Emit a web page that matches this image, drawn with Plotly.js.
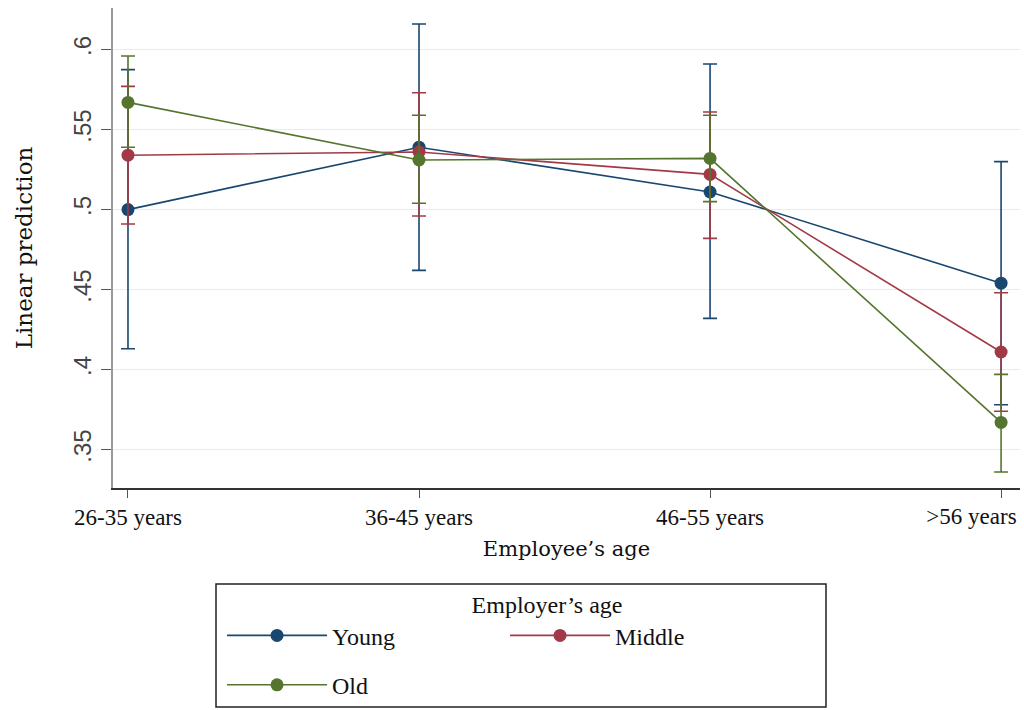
<!DOCTYPE html>
<html>
<head>
<meta charset="utf-8">
<script src="https://cdn.plot.ly/plotly-3.0.1.min.js"></script>
<style>html,body{margin:0;padding:0;background:#fff;}#chart{width:1024px;height:710px;}</style>
</head>
<body>
<div id="chart"></div>
<script>
const categories = ["26-35 years", "36-45 years", "46-55 years", ">56 years"];
const seriesNames = ["Young", "Middle", "Old"];
const seriesColors = ["#1a476f", "#a23a45", "#55752f"];

const youngMean  = [0.500, 0.539, 0.511, 0.454];
const youngUpper = [0.5875, 0.616, 0.591, 0.530];
const youngLower = [0.413, 0.462, 0.432, 0.378];

const middleMean  = [0.534, 0.536, 0.522, 0.411];
const middleUpper = [0.577, 0.573, 0.561, 0.448];
const middleLower = [0.491, 0.496, 0.482, 0.374];

const oldMean  = [0.567, 0.531, 0.532, 0.367];
const oldUpper = [0.596, 0.559, 0.559, 0.397];
const oldLower = [0.539, 0.504, 0.505, 0.336];

const yTickVals = [0.35, 0.4, 0.45, 0.5, 0.55, 0.6];
const yTickText = [".35", ".4", ".45", ".5", ".55", ".6"];

const means = [youngMean, middleMean, oldMean];
const uppers = [youngUpper, middleUpper, oldUpper];
const lowers = [youngLower, middleLower, oldLower];
const xIdx = categories.map((c, i) => i);
const lastIdx = categories.length - 1;
// the last label is drawn right-aligned (flush with the frame edge) on a helper axis
const xTickTextMain = categories.map((c, i) => i === lastIdx ? "" : c);
const legendIds = ["legend", "legend", "legend2"];

const traces = seriesNames.map((name, s) => ({
  type: "scatter",
  mode: "lines+markers",
  name: name,
  legend: legendIds[s],
  x: xIdx,
  y: means[s],
  line: {color: seriesColors[s], width: 1.6},
  marker: {color: seriesColors[s], size: 13},
  error_y: {
    type: "data",
    symmetric: false,
    array: uppers[s].map((u, i) => u - means[s][i]),
    arrayminus: means[s].map((m, i) => m - lowers[s][i]),
    color: seriesColors[s],
    thickness: 1.6,
    width: 7
  }
}));
// empty helper trace so the helper x axis (last category label) is drawn
traces.push({
  type: "scatter", mode: "markers", xaxis: "x2", yaxis: "y",
  x: [lastIdx], y: [null], showlegend: false, hoverinfo: "skip",
  marker: {opacity: 0}
});

const times = "Liberation Serif, Times New Roman, serif";
const slab = "DejaVu Serif, serif";
const legendFont = {family: times, size: 24, color: "#111"};
const xRange = [-0.0515, 3.065];
const labelShift = 16 / 291; // label end sits 16px right of the last tick

const layout = {
  width: 1024, height: 710,
  margin: {l: 113, r: 4, t: 8, b: 222, autoexpand: false},
  paper_bgcolor: "#fff",
  plot_bgcolor: "#fff",
  showlegend: true,
  xaxis: {
    range: xRange,
    tickmode: "array",
    tickvals: xIdx,
    ticktext: xTickTextMain,
    ticks: "outside",
    ticklen: 8,
    tickcolor: "#555",
    tickwidth: 1,
    showgrid: false,
    zeroline: false,
    showline: true,
    linecolor: "#333",
    linewidth: 1.5,
    automargin: false,
    tickfont: {family: times, size: 23, color: "#111"},
    title: {text: "Employee’s age", font: {family: slab, size: 21, color: "#111"}, standoff: 12},
    fixedrange: true
  },
  xaxis2: {
    overlaying: "x",
    anchor: "y",
    side: "bottom",
    range: [xRange[0] - labelShift, xRange[1] - labelShift],
    tickmode: "array",
    tickvals: [lastIdx],
    ticktext: [categories[lastIdx]],
    ticklabelposition: "outside left",
    ticklabelstandoff: 7,
    ticks: "outside",
    ticklen: 8,
    tickcolor: "rgba(0,0,0,0)",
    showgrid: false,
    zeroline: false,
    showline: false,
    automargin: false,
    tickfont: {family: times, size: 23, color: "#111"},
    fixedrange: true
  },
  yaxis: {
    range: [0.326, 0.626],
    tickmode: "array",
    tickvals: yTickVals,
    ticktext: yTickText,
    tickangle: -90,
    ticks: "outside",
    ticklen: 10,
    tickcolor: "#555",
    tickwidth: 1,
    showgrid: true,
    gridcolor: "#eaeaea",
    gridwidth: 1.5,
    zeroline: false,
    showline: true,
    linecolor: "#999",
    linewidth: 2,
    automargin: false,
    tickfont: {family: "Liberation Sans, Arial, sans-serif", size: 24, color: "#444"},
    title: {text: "Linear prediction", font: {family: slab, size: 23, color: "#111"}, standoff: 30},
    fixedrange: true
  },
  legend: {
    orientation: "h",
    x: 0.1202, xanchor: "left",
    y: -0.196, yanchor: "top",
    entrywidth: 168,
    entrywidthmode: "pixels",
    font: legendFont,
    title: {text: "\u00a0".repeat(14) + "Employer’s age", side: "top center", font: legendFont},
    bgcolor: "rgba(0,0,0,0)",
    borderwidth: 0,
    itemwidth: 100
  },
  legend2: {
    orientation: "h",
    x: 0.1202, xanchor: "left",
    y: -0.364, yanchor: "top",
    font: legendFont,
    bgcolor: "rgba(0,0,0,0)",
    borderwidth: 0,
    itemwidth: 100
  },
  shapes: [{
    type: "rect", xref: "paper", yref: "paper",
    x0: (216 - 113) / 907, x1: (826 - 113) / 907,
    y0: (488 - 584) / 480, y1: (488 - 707) / 480,
    line: {color: "#222", width: 1.5},
    fillcolor: "rgba(0,0,0,0)"
  }]
};

Plotly.newPlot("chart", traces, layout, {displayModeBar: false, staticPlot: true});
</script>
</body>
</html>
